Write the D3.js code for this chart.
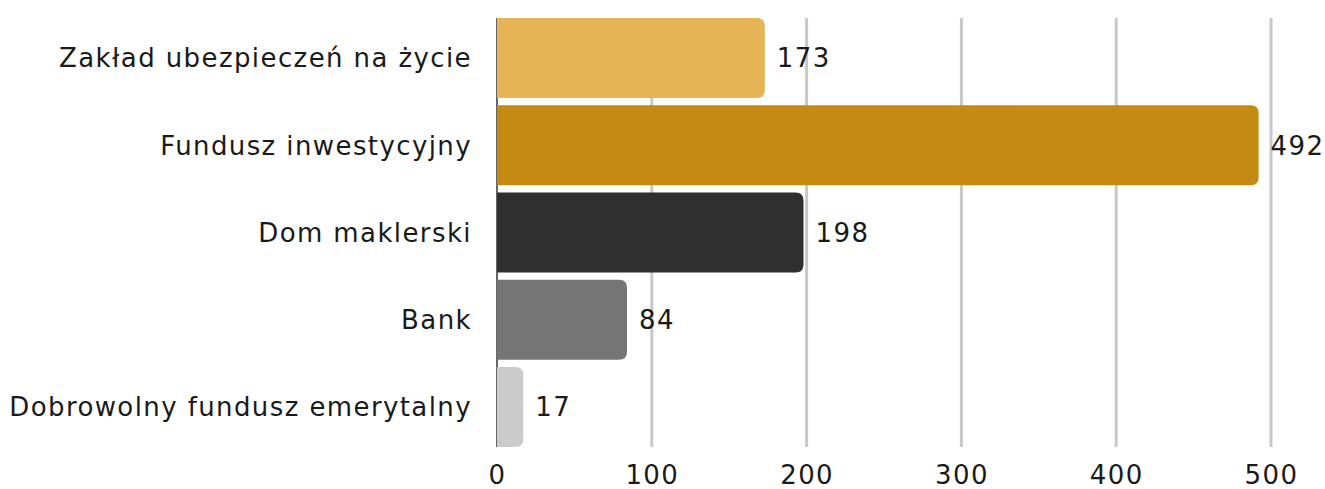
<!DOCTYPE html>
<html><head><meta charset="utf-8">
<script src="https://cdn.jsdelivr.net/npm/d3@7"></script>
<style>
html,body{margin:0;padding:0;background:#fff;}
svg text{font-family:"DejaVu Sans","Open Sans",sans-serif;fill:#1a1a1a;}
</style></head>
<body><svg id="chart" width="1325" height="489"></svg>
<script>
const categories = ["Zakład ubezpieczeń na życie","Fundusz inwestycyjny","Dom maklerski","Bank","Dobrowolny fundusz emerytalny"];
const values = [173, 492, 198, 84, 17];
const colors = ["#E4B455","#C48A12","#2F2F2F","#757575","#CBCBCB"];
const ticks = [0,100,200,300,400,500];

const svg = d3.select("#chart");
const x = d3.scaleLinear().domain([0,500]).range([497,1271]);
const y = d3.scaleBand().domain(categories).range([14.4,450.6]).paddingInner(0.083).paddingOuter(0.0415);
const fs = 26, ls = 1.4;

// grid
svg.append("g").selectAll("line").data(ticks.filter(t=>t>0)).join("line")
  .attr("x1",d=>x(d)).attr("x2",d=>x(d)).attr("y1",18).attr("y2",447)
  .attr("stroke","#c8c8c8").attr("stroke-width",3);

// left axis line
svg.append("line").attr("x1",x(0)).attr("x2",x(0)).attr("y1",18).attr("y2",447)
  .attr("stroke","#666").attr("stroke-width",2);

// bars with right-side rounded corners
const r = 8;
function barPath(x0,x1,y0,h){
  const w = x1-x0, rr = Math.min(r,w/2);
  return `M${x0},${y0}H${x1-rr}Q${x1},${y0} ${x1},${y0+rr}V${y0+h-rr}Q${x1},${y0+h} ${x1-rr},${y0+h}H${x0}Z`;
}
svg.append("g").selectAll("path").data(values).join("path")
  .attr("d",(d,i)=>barPath(x(0), x(d), y(categories[i]), y.bandwidth()))
  .attr("fill",(d,i)=>colors[i]);

// value labels
svg.append("g").selectAll("text").data(values).join("text")
  .attr("x",d=>x(d)+12).attr("y",(d,i)=>y(categories[i])+y.bandwidth()/2)
  .attr("dy","0.36em").attr("font-size",fs).attr("letter-spacing",ls).text(d=>d);

// category labels
svg.append("g").selectAll("text").data(categories).join("text")
  .attr("x",472).attr("y",d=>y(d)+y.bandwidth()/2).attr("dy","0.36em")
  .attr("text-anchor","end").attr("font-size",fs).attr("letter-spacing",ls).text(d=>d);

// x tick labels
const xAxis = d3.axisBottom(x).tickValues(ticks).tickSize(0).tickPadding(0);
const gx = svg.append("g").attr("transform","translate(0,466)").call(xAxis);
gx.select(".domain").remove();
gx.selectAll("text").attr("font-size",fs).attr("letter-spacing",ls).attr("font-family",null).attr("fill","#1a1a1a");
</script></body></html>
